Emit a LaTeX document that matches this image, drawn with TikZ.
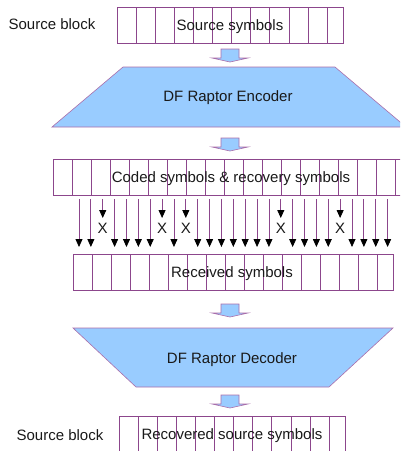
\documentclass[tikz,border=0pt]{standalone}
\usepackage{fontspec}
\setmainfont{Liberation Sans}
\usetikzlibrary{arrows.meta,calc}
\definecolor{lnc}{RGB}{140,70,140}
\definecolor{trc}{RGB}{170,110,170}
\definecolor{fillb}{RGB}{153,204,255}
\definecolor{txt}{RGB}{25,25,25}
\begin{document}
\begin{tikzpicture}[x=1pt,y=-1pt,
  lbl/.style={font=\fontsize{15}{18}\selectfont, text=txt, inner sep=0pt, yshift=-1.5pt},
  symbox/.style={draw=lnc, line width=0.8pt, inner sep=0pt, anchor=north west},
  cellline/.style={draw=lnc, line width=0.8pt},
  trap/.style={draw=trc, line width=0.6pt, fill=fillb},
  sarr/.style={draw=lnc, line width=0.8pt, -{Triangle[width=7pt,length=8pt,color=black]}},
  barrow/.pic={\draw[fill=fillb, draw=trc, line width=0.6pt]
     (-9,0) -- (9,0) -- (9,9) -- (18,9) -- (0,13) -- (-18,9) -- (-9,9) -- cycle;}
]
\useasboundingbox (0,0) rectangle (400,451);
\clip (0,0) rectangle (400,451);

% Source symbols
\node[symbox, minimum width=226pt, minimum height=36pt] (src) at (117,7) {};
\foreach \k in {1,...,11}
  \draw[cellline] ($(src.north west)+(19.1*\k,0)$) -- ($(src.south west)+(19.1*\k,0)$);
\node[lbl] (srclbl) at (230,25) {Source symbols};
\node[lbl] (blk1) at (52,23) {Source block};

\pic at (230,49) {barrow};

% Encoder
\draw[trap] (123,67) -- (335,67) -- (406,127) -- (52,127) -- cycle;
\node[lbl] (enc) at (228,96) {DF Raptor Encoder};

\pic at (230,138) {barrow};

% Coded symbols
\node[symbox, minimum width=360pt, minimum height=36pt] (coded) at (53,159) {};
\foreach \k in {1,...,18}
  \draw[cellline] ($(coded.north west)+(19*\k,0)$) -- ($(coded.south west)+(19*\k,0)$);
\node[lbl] (codedlbl) at (231,177) {Coded symbols \& recovery symbols};

% transmission arrows
\foreach \i in {0,...,26} {
  \coordinate (a\i) at (79+11.87*\i,199);
  \coordinate (b\i) at (79+11.87*\i,247);
  \coordinate (c\i) at (79+11.87*\i,218);
}
\foreach \i in {0,1,3,4,5,6,8,10,11,12,13,14,15,16,18,19,20,21,23,24,25,26}
  \draw[sarr] (a\i) -- (b\i);
\foreach \i in {2,7,9,17,22} {
  \draw[sarr] (a\i) -- (c\i);
  \node[lbl, yshift=1pt] (x\i) at (79+11.87*\i,228) {X};
}

% Received symbols
\node[symbox, minimum width=320pt, minimum height=36pt] (rcv) at (73,254) {};
\foreach \k in {1,...,16}
  \draw[cellline] ($(rcv.north west)+(19*\k,0)$) -- ($(rcv.south west)+(19*\k,0)$);
\node[lbl] (rcvlbl) at (232,272) {Received symbols};

\pic at (230,304) {barrow};

% Decoder
\draw[trap] (73,328) -- (393,328) -- (329,387) -- (136,387) -- cycle;
\node[lbl] (dec) at (232,358) {DF Raptor Decoder};

\pic at (230,395) {barrow};

% Recovered source symbols
\node[symbox, minimum width=226pt, minimum height=50pt] (rec) at (119,416) {};
\foreach \k in {1,...,11}
  \draw[cellline] ($(rec.north west)+(19.1*\k,0)$) -- ($(rec.south west)+(19.1*\k,0)$);
\node[lbl] (reclbl) at (232,434) {Recovered source symbols};
\node[lbl] (blk2) at (60,434) {Source block};
\end{tikzpicture}
\end{document}
